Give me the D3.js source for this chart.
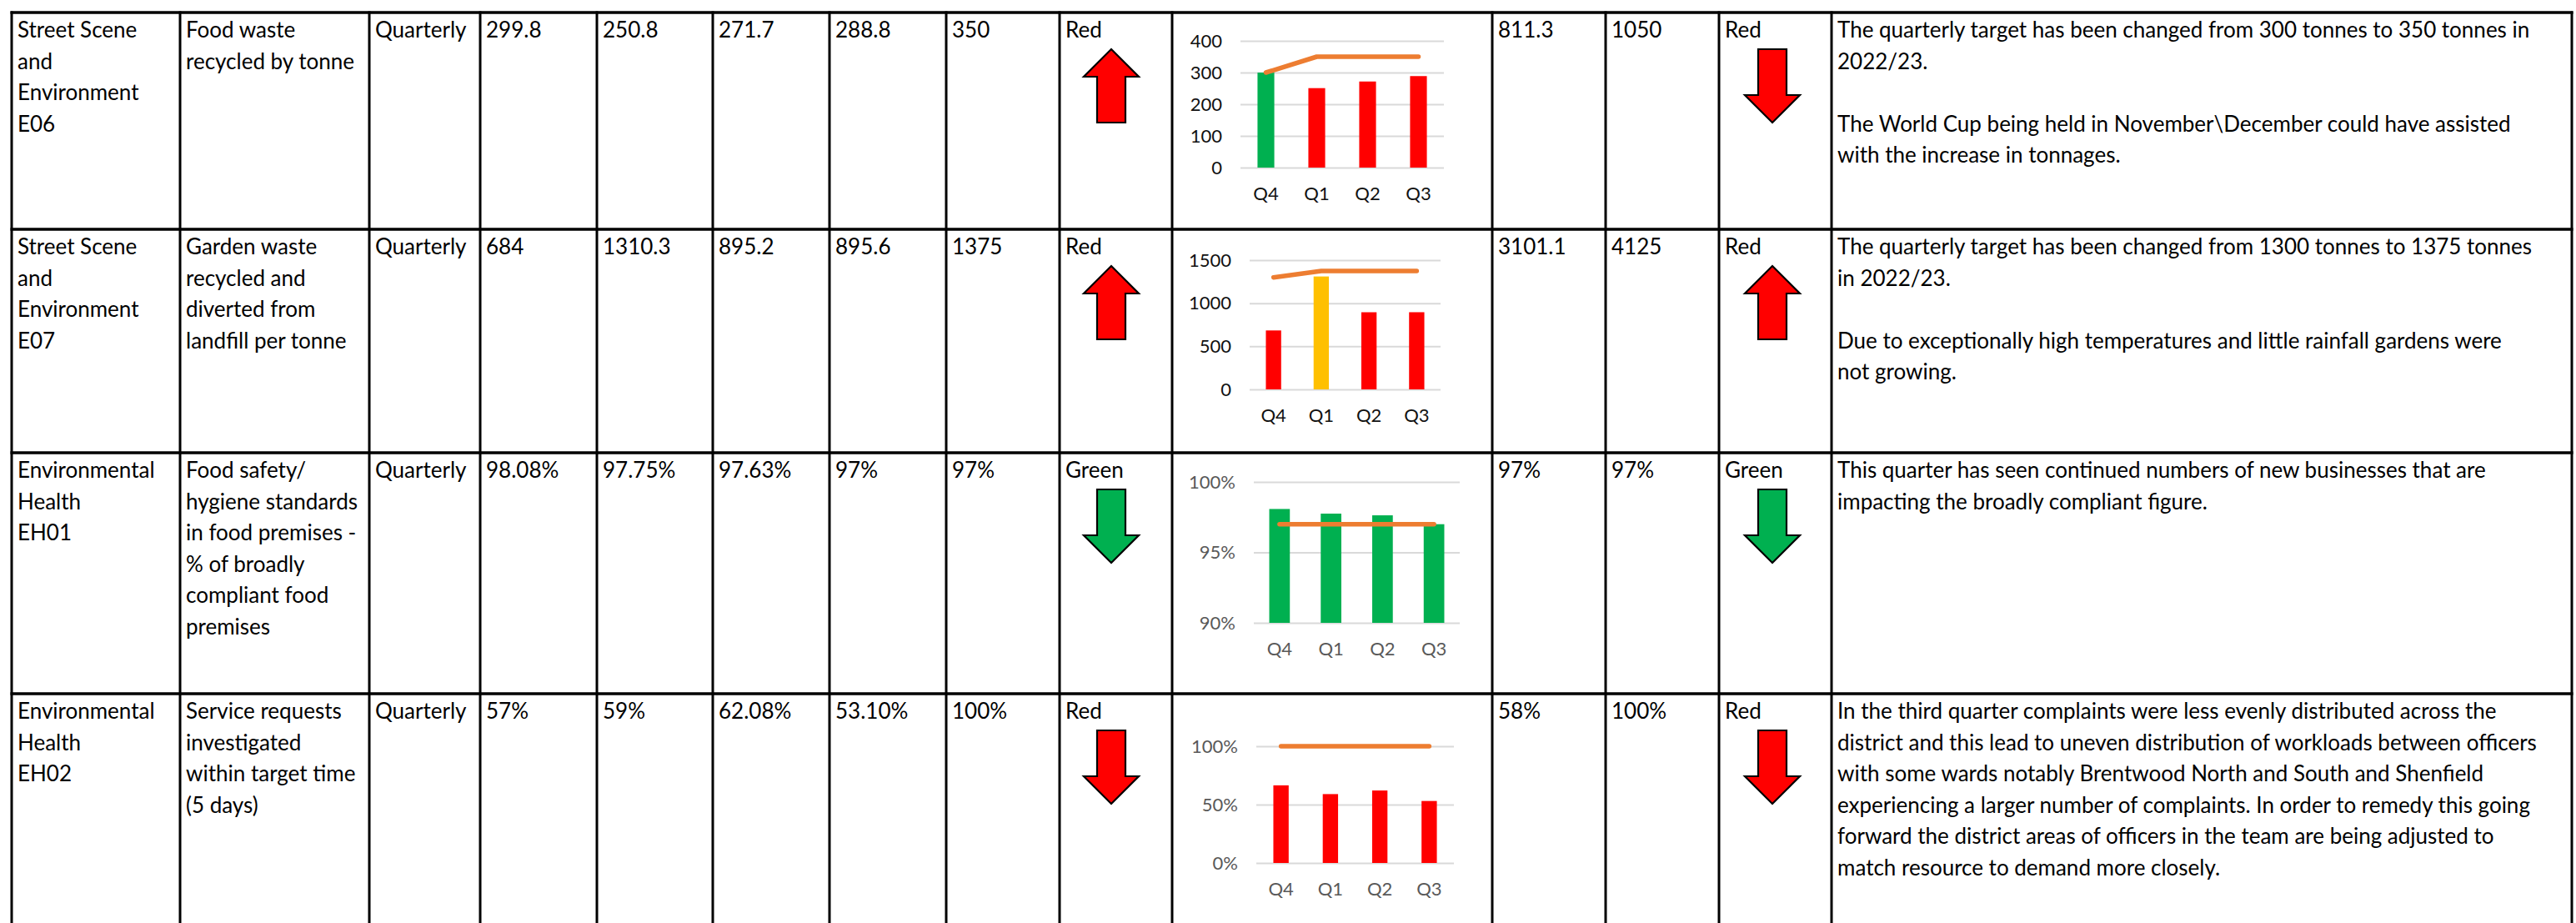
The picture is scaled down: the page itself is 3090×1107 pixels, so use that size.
<!DOCTYPE html>
<html>
<head>
<meta charset="utf-8">
<script src="https://cdn.jsdelivr.net/npm/d3@7"></script>
<style>
  body { margin: 0; background: #fff; }
  svg text { font-family: Lato, "Open Sans", sans-serif; }
</style>
</head>
<body>
<div id="vizArea"></div>
<script>
// table columns
const service = [
    ["Street Scene", "and", "Environment", "E06"],
    ["Street Scene", "and", "Environment", "E07"],
    ["Environmental", "Health", "EH01"],
    ["Environmental", "Health", "EH02"]
]
const indicator = [
    ["Food waste", "recycled by tonne"],
    ["Garden waste", "recycled and", "diverted from", "landfill per tonne"],
    ["Food safety/", "hygiene standards", "in food premises -", "% of broadly", "compliant food", "premises"],
    ["Service requests", "investigated", "within target time", "(5 days)"]
]
const frequency = ["Quarterly", "Quarterly", "Quarterly", "Quarterly"]
const prevQ4 = ["299.8", "684", "98.08%", "57%"]
const q1 = ["250.8", "1310.3", "97.75%", "59%"]
const q2 = ["271.7", "895.2", "97.63%", "62.08%"]
const q3 = ["288.8", "895.6", "97%", "53.10%"]
const q3Target = ["350", "1375", "97%", "100%"]
const q3Status = ["Red", "Red", "Green", "Red"]
const q3Trend = ["up", "up", "down", "down"]
const ytd = ["811.3", "3101.1", "97%", "58%"]
const ytdTarget = ["1050", "4125", "97%", "100%"]
const ytdStatus = ["Red", "Red", "Green", "Red"]
const ytdTrend = ["down", "up", "down", "down"]
const comments = [
    ["The quarterly target has been changed from 300 tonnes to 350 tonnes in", "2022/23.", "",
     "The World Cup being held in November\\December could have assisted", "with the increase in tonnages."],
    ["The quarterly target has been changed from 1300 tonnes to 1375 tonnes", "in 2022/23.", "",
     "Due to exceptionally high temperatures and little rainfall gardens were", "not growing."],
    ["This quarter has seen continued numbers of new businesses that are", "impacting the broadly compliant figure."],
    ["In the third quarter complaints were less evenly distributed across the",
     "district and this lead to uneven distribution of workloads between officers",
     "with some wards notably Brentwood North and South and Shenfield",
     "experiencing a larger number of complaints. In order to remedy this going",
     "forward the district areas of officers in the team are being adjusted to",
     "match resource to demand more closely."]
]

// mini charts
const quarters = ["Q4", "Q1", "Q2", "Q3"]
const e06Actual = [299.8, 250.8, 271.7, 288.8]
const e06Target = [300, 350, 350, 350]
const e06Rag = ["G", "R", "R", "R"]
const e06Ticks = [0, 100, 200, 300, 400]
const e07Actual = [684, 1310.3, 895.2, 895.6]
const e07Target = [1300, 1375, 1375, 1375]
const e07Rag = ["R", "A", "R", "R"]
const e07Ticks = [0, 500, 1000, 1500]
const eh01Actual = [98.08, 97.75, 97.63, 97]
const eh01Target = [97, 97, 97, 97]
const eh01Rag = ["G", "G", "G", "G"]
const eh01Ticks = [90, 95, 100]
const eh02Actual = [66.5, 59, 62.08, 53.1]
const eh02Target = [100, 100, 100, 100]
const eh02Rag = ["R", "R", "R", "R"]
const eh02Ticks = [0, 50, 100]

const ragColor = {G: "#00B050", R: "#FF0000", A: "#FFC000", Red: "#FF0000", Green: "#00B050"}

const W = 3090, H = 1107
const colX = [14, 216, 443, 576, 716, 855, 995, 1135, 1271, 1406, 1790, 1926, 2062, 2197, 3085]
const rowY = [15, 275, 543, 832, 1125]
const fontSize = 26, lineH = 37.6

const svg = d3.select("#vizArea").append("svg")
    .attr("width", W).attr("height", H)

// text cells
const textCols = [
    [0, service], [1, indicator], [2, frequency], [3, prevQ4], [4, q1], [5, q2], [6, q3],
    [7, q3Target], [8, q3Status], [10, ytd], [11, ytdTarget], [12, ytdStatus], [13, comments]
]

textCols.forEach(([ci, arr]) => {
    arr.forEach((cell, ri) => {
        const lines = Array.isArray(cell) ? cell : [cell]
        const t = svg.append("text")
            .attr("x", colX[ci] + 7)
            .attr("y", rowY[ri] + 30)
            .attr("font-size", fontSize)
            .attr("fill", "#000")
        t.selectAll("tspan")
            .data(lines)
            .enter()
            .append("tspan")
            .attr("x", colX[ci] + 7)
            .attr("dy", (d, i) => i === 0 ? 0 : lineH)
            .text(d => d === "" ? "\u00a0" : d)
    })
})

// arrows
function arrowPath(cx, top, dir) {
    const h = 88, hd = 33, hw = 33, sw = 17
    let pts
    if (dir === "up") {
        pts = [[cx, top], [cx + hw, top + hd], [cx + sw, top + hd], [cx + sw, top + h],
               [cx - sw, top + h], [cx - sw, top + hd], [cx - hw, top + hd]]
    } else {
        pts = [[cx, top + h], [cx + hw, top + h - hd], [cx + sw, top + h - hd], [cx + sw, top],
               [cx - sw, top], [cx - sw, top + h - hd], [cx - hw, top + h - hd]]
    }
    return "M" + pts.map(p => p.join(",")).join("L") + "Z"
}

const arrowCols = [[8, q3Trend, q3Status, 62], [12, ytdTrend, ytdStatus, 64]]
arrowCols.forEach(([ci, trend, status, off]) => {
    svg.selectAll(null)
        .data(trend)
        .enter()
        .append("path")
        .attr("d", (d, i) => arrowPath(colX[ci] + off, rowY[i] + 44, d))
        .attr("fill", (d, i) => ragColor[status[i]])
        .attr("stroke", "#000")
        .attr("stroke-width", 2.2)
        .attr("stroke-linejoin", "miter")
})

// charts
const charts = [
    {actual: e06Actual, target: e06Target, rag: e06Rag, ticks: e06Ticks, fmt: d => d,
     x0: 1488, x1: 1732, yb: 201, yt: 49, pad: 0.67, labelColor: "#111"},
    {actual: e07Actual, target: e07Target, rag: e07Rag, ticks: e07Ticks, fmt: d => d,
     x0: 1499, x1: 1728, yb: 467, yt: 312, pad: 0.68, labelColor: "#111"},
    {actual: eh01Actual, target: eh01Target, rag: eh01Rag, ticks: eh01Ticks, fmt: d => d + "%",
     x0: 1504, x1: 1751, yb: 747, yt: 578, pad: 0.6, labelColor: "#595959"},
    {actual: eh02Actual, target: eh02Target, rag: eh02Rag, ticks: eh02Ticks, fmt: d => d + "%",
     x0: 1507, x1: 1744, yb: 1035, yt: 895, pad: 0.69, labelColor: "#595959"}
]

charts.forEach(c => {
    const x = d3.scaleBand().domain(quarters).range([c.x0, c.x1])
        .paddingInner(c.pad).paddingOuter(c.pad / 2)
    const y = d3.scaleLinear().domain(d3.extent(c.ticks)).range([c.yb, c.yt])
    const g = svg.append("g")

    const yAxis = g.append("g")
        .attr("transform", `translate(${c.x0},0)`)
        .call(d3.axisLeft(y).tickValues(c.ticks).tickFormat(c.fmt)
            .tickSize(-(c.x1 - c.x0)).tickPadding(22))
    yAxis.select(".domain").remove()
    yAxis.selectAll("line").attr("stroke", "#D9D9D9").attr("stroke-width", 2)
    yAxis.selectAll("text").attr("font-size", 22).attr("fill", c.labelColor)
        .attr("font-family", "Lato, sans-serif")

    g.selectAll("rect")
        .data(c.actual)
        .enter()
        .append("rect")
        .attr("x", (d, i) => x(quarters[i]))
        .attr("width", x.bandwidth())
        .attr("y", d => y(d))
        .attr("height", d => c.yb - y(d))
        .attr("fill", (d, i) => ragColor[c.rag[i]])

    const xAxis = g.append("g")
        .attr("transform", `translate(0,${c.yb})`)
        .call(d3.axisBottom(x).tickSize(0).tickPadding(23))
    xAxis.select(".domain").remove()
    xAxis.selectAll("text").attr("font-size", 22).attr("fill", c.labelColor)
        .attr("font-family", "Lato, sans-serif")

    const line = d3.line()
        .x((d, i) => x(quarters[i]) + x.bandwidth() / 2)
        .y(d => y(d))
    g.append("path")
        .datum(c.target)
        .attr("d", line)
        .attr("fill", "none")
        .attr("stroke", "#ED7D31")
        .attr("stroke-width", 5.5)
        .attr("stroke-linecap", "round")
        .attr("stroke-linejoin", "round")
})

// table grid
svg.selectAll("line.v")
    .data(colX)
    .enter()
    .append("line")
    .attr("x1", d => d).attr("x2", d => d)
    .attr("y1", rowY[0] - 1.5).attr("y2", H)
    .attr("stroke", "#000").attr("stroke-width", 3)

svg.selectAll("line.h")
    .data(rowY.slice(0, 4))
    .enter()
    .append("line")
    .attr("x1", colX[0] - 1.5).attr("x2", colX[colX.length - 1] + 1.5)
    .attr("y1", d => d).attr("y2", d => d)
    .attr("stroke", "#000").attr("stroke-width", 3.5)
</script>
</body>
</html>
